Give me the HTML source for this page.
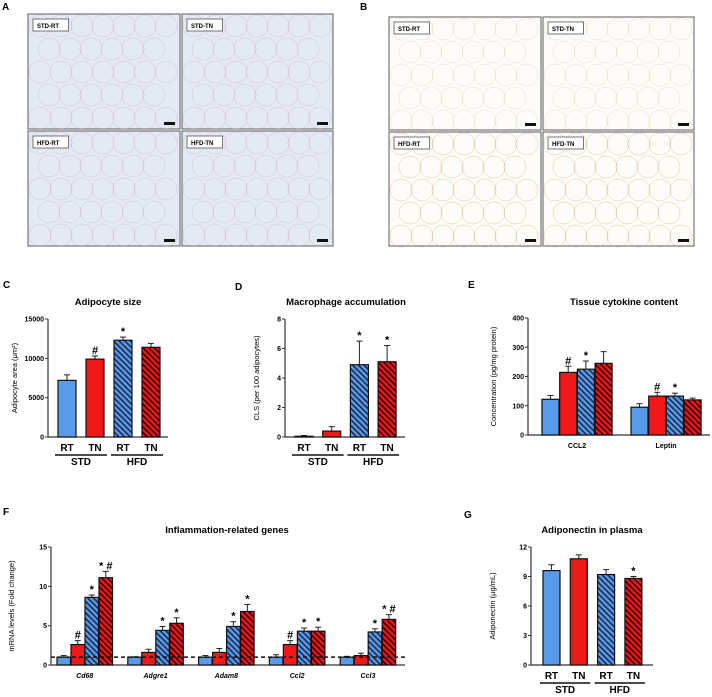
<!DOCTYPE html>
<html><head><meta charset="utf-8"><style>
body{margin:0;background:#fff;}
svg{display:block;font-family:"Liberation Sans",sans-serif;}
.t{font-size:7px;font-weight:bold;}
.title{font-size:9.5px;font-weight:bold;}
.pl{font-size:10px;font-weight:bold;}
.cat{font-size:10px;font-weight:bold;}
.yt{font-size:7.5px;}
</style></head><body>
<svg id="fig" width="712" height="697" viewBox="0 0 712 697">
<defs>
<pattern id="hb" patternUnits="userSpaceOnUse" width="4" height="4" patternTransform="rotate(45)"><rect width="4" height="4" fill="#5a9be8"/><rect width="4" height="1.6" fill="#1a2a50"/></pattern>
<pattern id="hr" patternUnits="userSpaceOnUse" width="4" height="4" patternTransform="rotate(45)"><rect width="4" height="4" fill="#f01818"/><rect width="4" height="1.6" fill="#300"/></pattern>
</defs>
<g id="histo"></g>
<g id="charts"></g>
</svg>
<script>
// ---------- data ----------
const groupLabels = ["RT","TN","RT","TN"];
const cValues = [7200, 9900, 12300, 11400];
const cErrors = [7900, 10300, 12700, 11900];
const cMarks = ["","#","*",""];
const cTicks = [0,5000,10000,15000];
const dValues = [0.05, 0.4, 4.9, 5.1];
const dErrors = [0.1, 0.7, 6.5, 6.2];
const dMarks = ["","","*","*"];
const dTicks = [0,2,4,6,8];
const eCategories = ["CCL2","Leptin"];
const eValues = [[122,214,225,245],[95,133,133,120]];
const eErrors = [[135,235,253,285],[107,146,143,126]];
const eMarks = [["","#","*",""],["","#","*",""]];
const eTicks = [0,100,200,300,400];
const fCategories = ["Cd68","Adgre1","Adam8","Ccl2","Ccl3"];
const fValues = [[1.0,2.6,8.6,11.1],[1.0,1.6,4.4,5.3],[1.0,1.6,4.9,6.8],[1.0,2.6,4.3,4.3],[1.0,1.2,4.2,5.8]];
const fErrors = [[1.2,3.1,8.9,11.9],[1.05,2.0,4.9,6.0],[1.2,2.1,5.5,7.7],[1.3,3.1,4.7,4.8],[1.1,1.5,4.6,6.4]];
const fMarks = [["","#","*","*#"],["","","*","*"],["","","*","*"],["","#","*","*"],["","","*","*#"]];
const fTicks = [0,5,10,15];
const gValues = [9.6,10.8,9.2,8.8];
const gErrors = [10.2,11.2,9.7,9.0];
const gMarks = ["","","","*"];
const gTicks = [0,3,6,9,12];
const fills = ["#5a9be8","#f01818","url(#hb)","url(#hr)"];

const NS="http://www.w3.org/2000/svg";
const charts=document.getElementById('charts');
function el(tag,attrs,parent,txt){const e=document.createElementNS(NS,tag);for(const k in attrs)e.setAttribute(k,attrs[k]);if(txt!==undefined)e.textContent=txt;(parent||charts).appendChild(e);return e;}

// ---------- histology panels ----------
const histo=document.getElementById('histo');
function panel(x,y,w,h,label,bg,line,name){
  const g=el('g',{},histo);
  
  
  el('rect',{x:x,y:y,width:w,height:h,fill:bg,stroke:'#777','stroke-width':1.2},g);
  for(let i=0;i<7;i++)for(let j=0;j<5;j++){
    const cx=x+12+i*21+((j%2)*9), cy=y+12+j*23;
    if(cx<x+w-8&&cy<y+h-8) el('circle',{cx:cx,cy:cy,r:11,fill:'none',stroke:line,'stroke-width':0.5,opacity:0.6},g);
  }
  el('rect',{x:x+5,y:y+5,width:label.length*4.6+8,height:12,fill:'#fff',stroke:'#555','stroke-width':0.8},g);
  el('text',{x:x+9,y:y+14,'font-size':6,'font-weight':'bold'},g,label);
  el('rect',{x:x+w-16,y:y+h-7,width:11,height:3,fill:'#111'},g);
}
panel(28,14,152,115,'STD-RT','#e3eaf3','#c9a0c8','panel-a-std-rt');
panel(182,14,151,115,'STD-TN','#e3eaf3','#c9a0c8','panel-a-std-tn');
panel(28,131,152,115,'HFD-RT','#e3eaf3','#c9a0c8','panel-a-hfd-rt');
panel(182,131,151,115,'HFD-TN','#e3eaf3','#c9a0c8','panel-a-hfd-tn');
panel(389,17,152,113,'STD-RT','#fdfcf8','#d8c8a8','panel-b-std-rt');
panel(543,17,151,113,'STD-TN','#fdfcf8','#d8c8a8','panel-b-std-tn');
panel(389,132,152,114,'HFD-RT','#fdfcf8','#c8a060','panel-b-hfd-rt');
panel(543,132,151,114,'HFD-TN','#fdfcf8','#c8a060','panel-b-hfd-tn');

// ---------- generic chart ----------
function chart(o){
  const g=el('g',{});
  
  
  const ymax=o.ticks[o.ticks.length-1];
  const Y=v=>o.y0-(v/ymax)*(o.y0-o.ytop);
  el('line',{x1:o.ax,y1:o.ytop,x2:o.ax,y2:o.y0,stroke:'#333','stroke-width':1.2},g);
  el('line',{x1:o.ax,y1:o.y0,x2:o.xend,y2:o.y0,stroke:'#333','stroke-width':1.2},g);
  o.ticks.forEach(t=>{
    el('line',{x1:o.ax-3,y1:Y(t),x2:o.ax,y2:Y(t),stroke:'#333','stroke-width':1},g);
    const tl=el('text',{x:o.ax-4,y:Y(t)+2.5,'text-anchor':'end',class:'t'},g,String(t));
    
    
  });
  el('text',{x:o.tx,y:o.ty,'text-anchor':'middle',class:'title'},g,o.title);
  const yt=el('text',{transform:`translate(${o.ytx},${(o.y0+o.ytop)/2}) rotate(-90)`,'text-anchor':'middle',class:'yt'},g,o.ytitle);
  
  
  o.groups.forEach((grp,gi)=>{
    grp.vals.forEach((v,i)=>{
      const x=grp.x+i*o.step;
      const ey=Y(grp.errs[i]);
      el('line',{x1:x+o.bw/2,y1:ey,x2:x+o.bw/2,y2:Y(v),stroke:'#222','stroke-width':1},g);
      el('line',{x1:x+o.bw/2-3,y1:ey,x2:x+o.bw/2+3,y2:ey,stroke:'#222','stroke-width':1},g);
      const b=el('rect',{x:x,y:Y(v),width:o.bw,height:o.y0-Y(v),fill:fills[i],stroke:'#111','stroke-width':1.2},g);
      
      
      if(grp.marks[i]) el('text',{x:x+o.bw/2,y:ey-2,'text-anchor':'middle','font-size':11,'font-weight':'bold'},g,grp.marks[i].split('').join(' '));
    });
    if(grp.label) el('text',{x:grp.x+(o.step*3+o.bw)/2,y:o.y0+13,'text-anchor':'middle',class:'t','font-style':o.italic?'italic':'normal','font-size':8},g,grp.label);
  });
  if(o.rtTn){
    const x0=o.groups[0].x;
    groupLabels.forEach((l,i)=>el('text',{x:x0+i*o.step+o.bw/2,y:o.y0+14,'text-anchor':'middle',class:'cat'},g,l));
    [['STD',0],['HFD',2]].forEach(([l,i])=>{
      const xa=x0+i*o.step-3, xb=x0+(i+1)*o.step+o.bw+3;
      el('line',{x1:xa,y1:o.y0+18,x2:xb,y2:o.y0+18,stroke:'#111','stroke-width':1.5},g);
      el('text',{x:(xa+xb)/2,y:o.y0+28,'text-anchor':'middle',class:'cat'},g,l);
    });
  }
  if(o.dash) el('line',{x1:o.ax,y1:Y(1),x2:o.xend,y2:Y(1),stroke:'#111','stroke-width':1.5,'stroke-dasharray':'4,3'},g);
  return g;
}
chart({name:'adipocyte-size-chart',ax:48,xend:168,y0:437,ytop:319,ticks:cTicks,step:28,bw:18,rtTn:true,
  groups:[{x:58,vals:cValues,errs:cErrors,marks:cMarks}],title:'Adipocyte size',tx:108,ty:305,ytitle:'Adipocyte area (μm²)',ytx:17});
chart({name:'macrophage-accumulation-chart',ax:285,xend:405,y0:437,ytop:319,ticks:dTicks,step:27.7,bw:18,rtTn:true,
  groups:[{x:295,vals:dValues,errs:dErrors,marks:dMarks}],title:'Macrophage accumulation',tx:346,ty:305,ytitle:'CLS (per 100 adipocytes)',ytx:259});
chart({name:'tissue-cytokine-chart',ax:528,xend:710,y0:435,ytop:318,ticks:eTicks,step:17.7,bw:17,
  groups:eCategories.map((c,i)=>({x:542+i*89,vals:eValues[i],errs:eErrors[i],marks:eMarks[i],label:c})),title:'Tissue cytokine content',tx:624,ty:305,ytitle:'Concentration (pg/mg protein)',ytx:496});
chart({name:'inflammation-genes-chart',ax:51,xend:405,y0:665,ytop:547,ticks:fTicks,step:14,bw:13.5,italic:true,dash:true,
  groups:fCategories.map((c,i)=>({x:57+i*70.8,vals:fValues[i],errs:fErrors[i],marks:fMarks[i],label:c})),title:'Inflammation-related genes',tx:227,ty:533,ytitle:'mRNA levels (Fold change)',ytx:14});
chart({name:'adiponectin-chart',ax:531,xend:653,y0:665,ytop:547,ticks:gTicks,step:27.3,bw:17,rtTn:true,
  groups:[{x:543,vals:gValues,errs:gErrors,marks:gMarks}],title:'Adiponectin in plasma',tx:592,ty:533,ytitle:'Adiponectin (μg/mL)',ytx:495});
[['A',2,10],['B',360,10],['C',3,288],['D',235,290],['E',468,288],['F',3,515],['G',464,518]].forEach(([l,x,y])=>{
  const t=el('text',{x:x,y:y,class:'pl'},charts,l);
  
  
});
</script>
</body></html>
